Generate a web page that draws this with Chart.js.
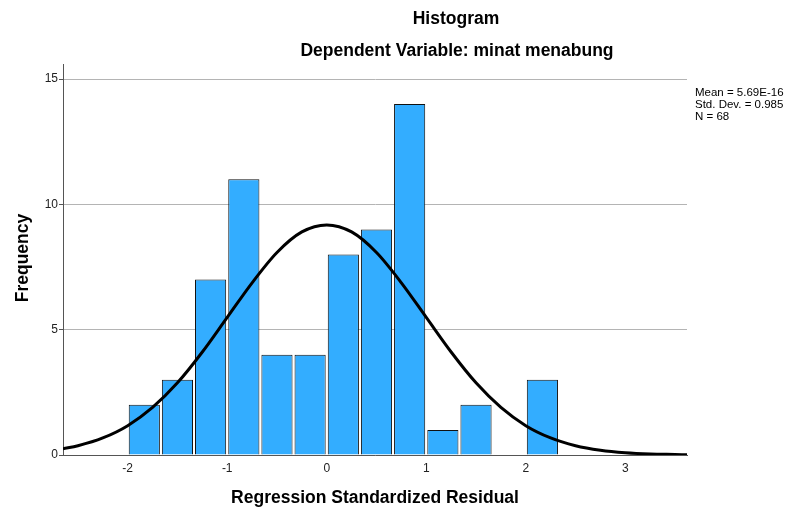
<!DOCTYPE html>
<html>
<head>
    <title>Histogram</title>
    <script src="https://cdn.jsdelivr.net/npm/chart.js@4.4.1/dist/chart.umd.min.js"></script>
    <style>
        body { margin: 0; background: #fff; }
    </style>
</head>
<body>
    <canvas id="histChart" width="787" height="509"></canvas>

    <script>
        // Histogram bins (centers, width 1/3) and counts
        const binCenters = [-1.833, -1.5, -1.167, -0.833, -0.5, -0.167, 0.167, 0.5, 0.833, 1.167, 1.5, 1.833, 2.167];
        const frequencies = [2, 3, 7, 11, 4, 4, 8, 9, 14, 1, 2, 0, 3];

        // Normal curve
        const curveX = [-2.65, -2.5, -2.25, -2, -1.75, -1.5, -1.25, -1, -0.75, -0.5, -0.25, 0,
                        0.25, 0.5, 0.75, 1, 1.25, 1.5, 1.75, 2, 2.25, 2.5, 2.75, 3, 3.25, 3.5, 3.62];
        const curveY = [0.25, 0.37, 0.68, 1.17, 1.9, 2.88, 4.11, 5.49, 6.87, 8.08, 8.9, 9.18,
                        8.9, 8.08, 6.87, 5.49, 4.11, 2.88, 1.9, 1.17, 0.68, 0.37, 0.19, 0.09, 0.04, 0.02, 0.01];

        const xTicks = [-2, -1, 0, 1, 2, 3];
        const yTicks = [0, 5, 10, 15];

        const title = 'Histogram';
        const subtitle = 'Dependent Variable: minat menabung';
        const xTitle = 'Regression Standardized Residual';
        const yTitle = 'Frequency';
        const stats = ['Mean = 5.69E-16', 'Std. Dev. = 0.985', 'N = 68'];

        const FONT = '"Liberation Sans", Arial, sans-serif';

        // Titles, axis titles and the stats box
        const textPlugin = {
            id: 'texts',
            afterDraw(chart) {
                const c = chart.ctx;
                c.save();
                c.fillStyle = '#000';
                c.textAlign = 'center';
                c.textBaseline = 'middle';
                c.font = 'bold 17.5px ' + FONT;
                c.fillText(title, 456, 19);
                c.fillText(subtitle, 457, 51);
                c.fillText(xTitle, 375, 498);
                c.save();
                c.translate(23, 258);
                c.rotate(-Math.PI / 2);
                c.fillText(yTitle, 0, 0);
                c.restore();
                c.textAlign = 'left';
                c.font = '11.5px ' + FONT;
                stats.forEach((s, i) => c.fillText(s, 695, 93 + i * 12));
                c.restore();
            }
        };

        const ctx = document.getElementById('histChart').getContext('2d');
        new Chart(ctx, {
            type: 'bar',
            data: {
                datasets: [{
                    type: 'line',
                    data: curveX.map((x, i) => ({ x: x, y: curveY[i] })),
                    borderColor: '#000',
                    borderWidth: 3,
                    pointRadius: 0,
                    cubicInterpolationMode: 'monotone',
                    fill: false,
                    order: 0
                }, {
                    type: 'bar',
                    data: binCenters.map((x, i) => ({ x: x, y: frequencies[i] })),
                    backgroundColor: '#33adff',
                    borderColor: '#111',
                    borderWidth: 1,
                    barPercentage: 0.94,
                    categoryPercentage: 1,
                    order: 1
                }]
            },
            options: {
                responsive: false,
                animation: false,
                layout: { padding: { top: 64, right: 100, left: 0, bottom: 0 } },
                plugins: {
                    legend: { display: false },
                    title: { display: false },
                    tooltip: { enabled: false }
                },
                scales: {
                    x: {
                        type: 'linear',
                        min: -2.65,
                        max: 3.62,
                        offset: false,
                        afterBuildTicks: (s) => { s.ticks = xTicks.map(v => ({ value: v })); },
                        afterFit: (s) => { s.height = 54; },
                        grid: { display: false, drawTicks: false, tickLength: 0 },
                        border: { display: true, color: '#555', width: 1 },
                        ticks: { padding: 6, color: '#222', font: { family: FONT, size: 12 } }
                    },
                    y: {
                        min: 0,
                        max: 15.6,
                        afterBuildTicks: (s) => { s.ticks = yTicks.map(v => ({ value: v })); },
                        afterFit: (s) => { s.width = 63; },
                        grid: { color: '#b4b4b4', tickColor: '#555', tickLength: 4, drawTicks: true },
                        border: { display: true, color: '#555', width: 1 },
                        ticks: { padding: 1, color: '#222', font: { family: FONT, size: 12 } }
                    }
                }
            },
            plugins: [textPlugin]
        });
    </script>
</body>
</html>
